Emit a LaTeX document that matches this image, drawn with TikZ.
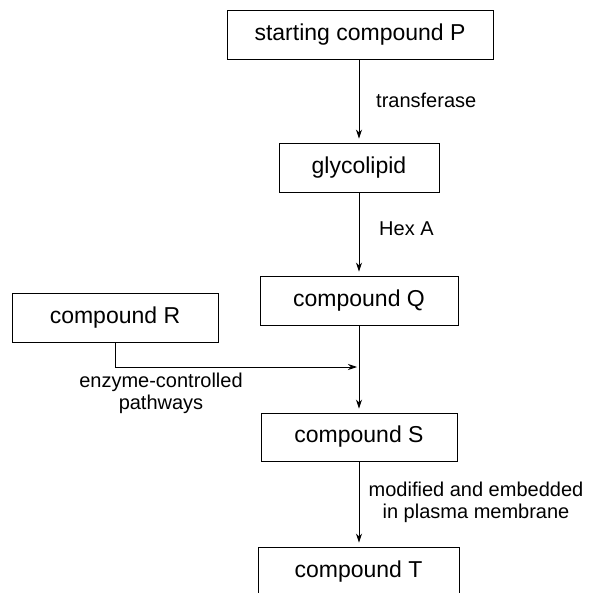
\documentclass[tikz,border=0pt]{standalone}
\usepackage{fontspec}
\setmainfont{Liberation Sans}
\usetikzlibrary{arrows.meta}

\tikzset{
  compbox/.style={draw, line width=0.9pt, minimum height=49pt, inner sep=0pt,
    font=\fontsize{23}{26}\selectfont},
  steplabel/.style={font=\fontsize{20}{22}\selectfont, align=center, inner sep=0pt},
  flow/.style={-{Stealth[length=9pt,width=6pt]}, line width=0.9pt, shorten >=4pt}
}

\begin{document}
\begin{tikzpicture}[x=1pt, y=-1pt]

    % Page frame (bottom box runs off the edge)
    \clip (0,0) rectangle (593,593);
    \fill[white] (0,0) rectangle (593,593);

    % Boxes
    \node[compbox, minimum width=266pt] (P) at (360,34.5) {starting compound P};
    \node[compbox, minimum width=160pt] (glyco) at (359,167.5) {glycolipid};
    \node[compbox, minimum width=198pt] (Q) at (359,300.5) {compound Q};
    \node[compbox, minimum width=206pt] (R) at (115,317.5) {compound R};
    \node[compbox, minimum width=196pt, minimum height=48pt] (S) at (359,437) {compound S};
    \node[compbox, minimum width=201pt] (T) at (358.5,571.5) {compound T};

    % Join point on the Q -> S line
    \coordinate (join) at (359,367);

    % Arrows
    \draw[flow] (P.south -| glyco) -- (glyco.north);
    \draw[flow] (glyco.south) -- (Q.north);
    \draw[flow] (Q.south) -- (S.north);
    \draw[flow, shorten >=2pt] (R.south) |- (join);
    \draw[flow] (S.south) -- (S.south |- T.north);

    % Labels
    \node[steplabel, anchor=west] (lbltrans) at (376,100) {transferase};
    \node[steplabel, anchor=west] (lblhex) at (379,229) {Hex A};
    \node[steplabel] (lblenz) at (161,393) {enzyme-controlled\\pathways};
    \node[steplabel] (lblmod) at (476,502) {modified and embedded\\in plasma membrane};

\end{tikzpicture}
\end{document}
